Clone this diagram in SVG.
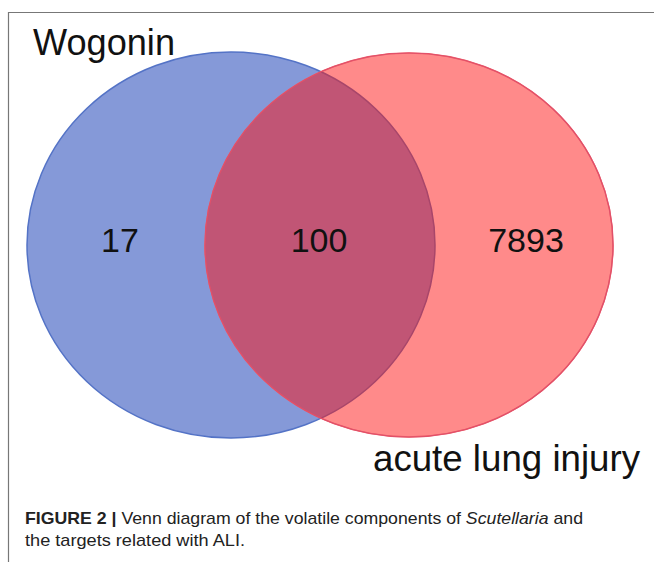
<svg xmlns="http://www.w3.org/2000/svg" width="654" height="562" viewBox="0 0 654 562">
  <style>
    .lbl { font-family: "Liberation Sans", Arial, sans-serif; fill: #111; }
    .num { font-family: "Liberation Sans", Arial, sans-serif; font-size: 34px; fill: #111; text-anchor: middle; }
    .cap { font-family: "Liberation Sans", Arial, sans-serif; font-size: 17px; fill: #222; }
  </style>
  <defs>
    <clipPath id="redClip">
      <ellipse cx="409" cy="245" rx="204" ry="192"/>
    </clipPath>
  </defs>
  <rect x="0" y="0" width="654" height="562" fill="#ffffff"/>
  <g id="frame">
    <path d="M8.5,562 V12.5 H654" fill="none" stroke="#777" stroke-width="1.2"/>
  </g>
  <g id="set-wogonin">
    <ellipse cx="231" cy="245" rx="204" ry="193" fill="#8599d8" stroke="#5473c6" stroke-width="1.5"/>
  </g>
  <g id="set-ali">
    <ellipse cx="409" cy="245" rx="204" ry="192" fill="#ff8a8a" stroke="#f0606a" stroke-width="1.5"/>
  </g>
  <g id="overlap">
    <ellipse cx="231" cy="245" rx="204" ry="193" fill="#c15575" stroke="#a8466a" stroke-width="1.5" clip-path="url(#redClip)"/>
    <ellipse cx="409" cy="245" rx="204" ry="192" fill="none" stroke="#e0506a" stroke-width="1.2"/>
  </g>
  <g id="labels">
    <text class="lbl" x="33" y="55" font-size="36" textLength="142" lengthAdjust="spacingAndGlyphs">Wogonin</text>
    <text class="lbl" x="373" y="471" font-size="37" textLength="267" lengthAdjust="spacingAndGlyphs">acute lung injury</text>
    <text class="num" x="120" y="252">17</text>
    <text class="num" x="319" y="252">100</text>
    <text class="num" x="526" y="252">7893</text>
  </g>
  <g id="caption">
    <text class="cap" x="25" y="524" textLength="558" lengthAdjust="spacingAndGlyphs"><tspan font-weight="bold">FIGURE 2 |</tspan> Venn diagram of the volatile components of <tspan font-style="italic">Scutellaria</tspan> and</text>
    <text class="cap" x="25" y="546" textLength="220" lengthAdjust="spacingAndGlyphs">the targets related with ALI.</text>
  </g>
</svg>
